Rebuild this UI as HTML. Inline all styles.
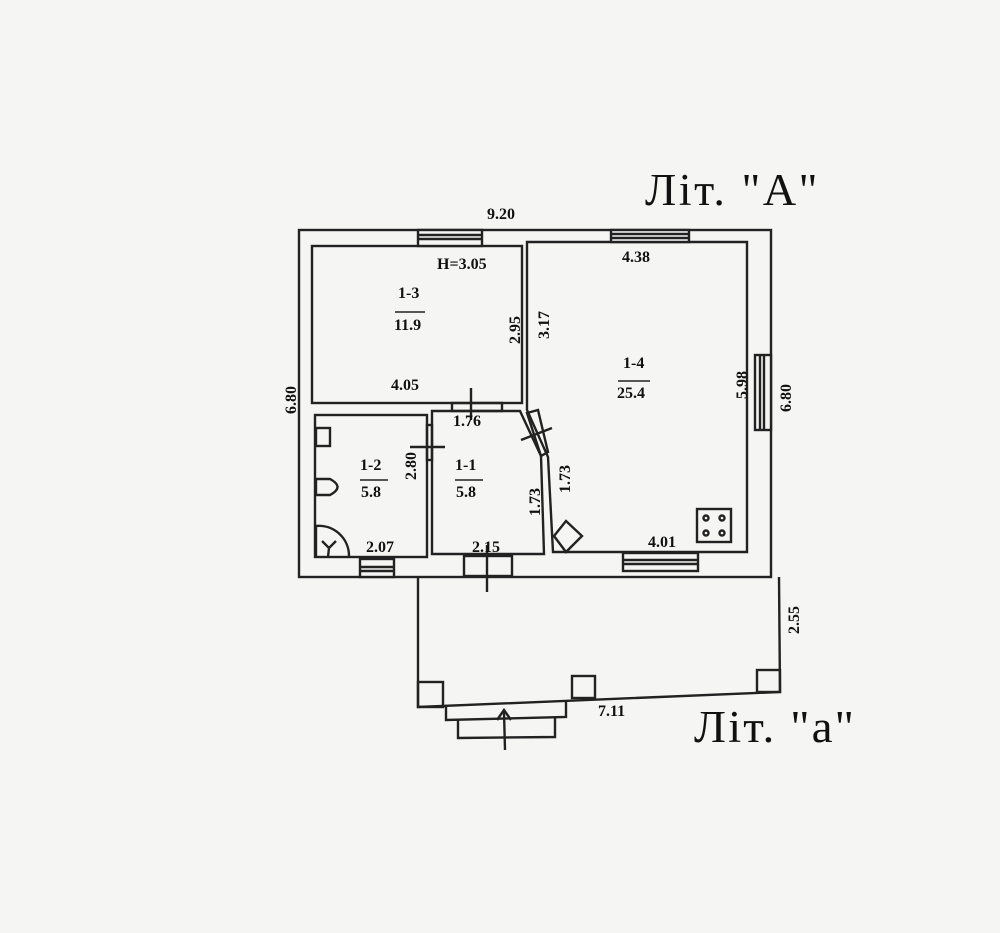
<!DOCTYPE html>
<html><head><meta charset="utf-8"><style>
html,body{margin:0;padding:0;background:#f5f5f4;}
svg{display:block}
text{font-family:"Liberation Serif",serif;font-weight:bold;fill:#111}
</style></head><body>
<svg width="1000" height="933" viewBox="0 0 1000 933" xmlns="http://www.w3.org/2000/svg">
<rect width="1000" height="933" fill="#f5f5f4"/>
<g stroke="#222" stroke-width="2.4" fill="none">
<rect x="299" y="230" width="472" height="347"/>
<rect x="312" y="246" width="210" height="157"/>
<path d="M527 242 L747 242 L747 552 L553 552 L548 457 L527 410 Z"/>
<rect x="315" y="415" width="112" height="142"/>
<path d="M432 411 L520 411 L541 456 L544 554 L432 554 Z"/>
<rect x="418" y="230" width="64" height="16" fill="#f5f5f4"/>
<line x1="418" y1="235" x2="482" y2="235"/><line x1="418" y1="239" x2="482" y2="239"/>
<rect x="611" y="230" width="78" height="12" fill="#f5f5f4"/>
<line x1="611" y1="234" x2="689" y2="234"/><line x1="611" y1="238" x2="689" y2="238"/>
<rect x="755" y="355" width="16" height="75" fill="#f5f5f4"/>
<line x1="760" y1="355" x2="760" y2="430"/><line x1="764" y1="355" x2="764" y2="430"/>
<rect x="623" y="553" width="75" height="18" fill="#f5f5f4"/>
<line x1="623" y1="560" x2="698" y2="560"/><line x1="623" y1="564" x2="698" y2="564"/>
<rect x="360" y="559" width="34" height="18" fill="#f5f5f4"/>
<line x1="360" y1="567" x2="394" y2="567"/><line x1="360" y1="571" x2="394" y2="571"/>
<rect x="452" y="403" width="50" height="8"/>
<line x1="471" y1="388" x2="471" y2="420"/>
<rect x="427" y="425" width="5" height="35"/>
<line x1="410" y1="447" x2="445" y2="447"/>
<path d="M527 413 L538 410 L548 452 L541 456 Z"/>
<line x1="521" y1="440" x2="552" y2="428"/>
<rect x="464" y="556" width="48" height="20"/>
<line x1="487" y1="545" x2="487" y2="592"/>
<rect x="316" y="428" width="14" height="18"/>
<path d="M316 479 L330 479 Q345 487 330 495 L316 495 Z"/>
<path d="M316 558 L316 526 A30 30 0 0 1 349 556" />
<path d="M329 548 L322 541 M329 548 L336 541 M329 548 L328 557"/>
<rect x="697" y="509" width="34" height="33"/>
<circle cx="706" cy="518" r="2.5"/><circle cx="722" cy="518" r="2.5"/>
<circle cx="706" cy="533" r="2.5"/><circle cx="722" cy="533" r="2.5"/>
<path d="M566 521 L582 536 L566 552 L554 536 Z"/>
<path d="M418 577 L418 707 L780 692 L779 577"/>
<rect x="418" y="682" width="25" height="25"/>
<rect x="572" y="676" width="23" height="22"/>
<rect x="757" y="670" width="23" height="22"/>
<path d="M446 706 L446 720 L566 717 L566 702"/>
<path d="M458 720 L458 738 L555 737 L555 717"/>
<line x1="504" y1="712" x2="505" y2="750"/>
<path d="M497 720 L504 710 L511 720"/>
</g>
<g font-size="16">
<text x="487" y="219">9.20</text>
<text x="437" y="269">Н=3.05</text>
<text x="622" y="262">4.38</text>
<text x="398" y="298">1-3</text>
<line x1="395" y1="312" x2="425" y2="312" stroke="#222" stroke-width="1.5"/>
<text x="394" y="330">11.9</text>
<text x="623" y="368">1-4</text>
<line x1="618" y1="381" x2="650" y2="381" stroke="#222" stroke-width="1.5"/>
<text x="617" y="398">25.4</text>
<text x="391" y="390">4.05</text>
<text x="453" y="426">1.76</text>
<text x="360" y="470">1-2</text>
<line x1="360" y1="480" x2="388" y2="480" stroke="#222" stroke-width="1.5"/>
<text x="361" y="497">5.8</text>
<text x="455" y="470">1-1</text>
<line x1="455" y1="480" x2="483" y2="480" stroke="#222" stroke-width="1.5"/>
<text x="456" y="497">5.8</text>
<text x="366" y="552">2.07</text>
<text x="472" y="552">2.15</text>
<text x="648" y="547">4.01</text>
<text x="598" y="716">7.11</text>
<text transform="translate(520,330) rotate(-90)" text-anchor="middle">2.95</text>
<text transform="translate(549,325) rotate(-90)" text-anchor="middle">3.17</text>
<text transform="translate(296,400) rotate(-90)" text-anchor="middle">6.80</text>
<text transform="translate(791,398) rotate(-90)" text-anchor="middle">6.80</text>
<text transform="translate(747,385) rotate(-90)" text-anchor="middle">5.98</text>
<text transform="translate(416,466) rotate(-90)" text-anchor="middle">2.80</text>
<text transform="translate(540,502) rotate(-90)" text-anchor="middle">1.73</text>
<text transform="translate(570,479) rotate(-90)" text-anchor="middle">1.73</text>
<text transform="translate(799,620) rotate(-90)" text-anchor="middle">2.55</text>
</g>
<text x="645" y="205" font-size="45" letter-spacing="2.5" style="font-weight:normal" textLength="175" lengthAdjust="spacingAndGlyphs">Літ. "А"</text>
<text x="694" y="742" font-size="45" letter-spacing="2" style="font-weight:normal" textLength="162" lengthAdjust="spacingAndGlyphs">Літ. "а"</text>
</svg>
</body></html>
